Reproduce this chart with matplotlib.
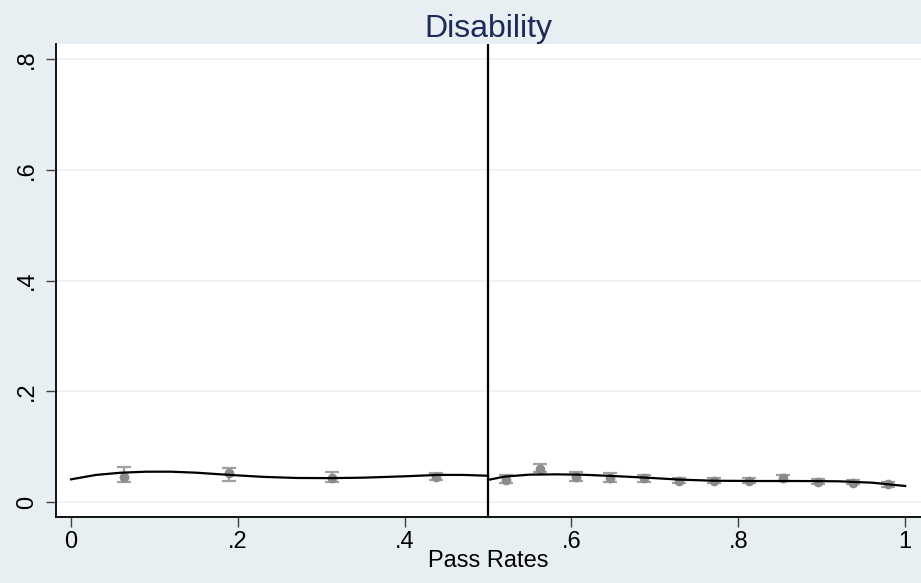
import matplotlib
matplotlib.use("Agg")
import matplotlib.pyplot as plt

plt.rcParams['font.family'] = ['Liberation Sans', 'DejaVu Sans']

# Binned means with confidence intervals
bin_x = [0.063, 0.189, 0.313, 0.438, 0.522, 0.562, 0.605, 0.646, 0.687, 0.729,
         0.771, 0.813, 0.853, 0.896, 0.937, 0.979]
bin_y = [0.046, 0.052, 0.044, 0.046, 0.040, 0.060, 0.046, 0.044, 0.043, 0.038,
         0.038, 0.038, 0.043, 0.037, 0.035, 0.032]
ci_lo = [0.036, 0.038, 0.036, 0.040, 0.034, 0.054, 0.038, 0.037, 0.037, 0.034,
         0.034, 0.034, 0.038, 0.032, 0.032, 0.028]
ci_hi = [0.064, 0.062, 0.054, 0.053, 0.049, 0.069, 0.054, 0.052, 0.049, 0.044,
         0.043, 0.043, 0.048, 0.042, 0.040, 0.037]

# Fitted polynomial curves on each side of the cutoff
fit_left_x = [0.0, 0.03, 0.06, 0.09, 0.12, 0.15, 0.19, 0.23, 0.27, 0.31, 0.35, 0.40, 0.44, 0.47, 0.5]
fit_left_y = [0.041, 0.049, 0.053, 0.0548, 0.0548, 0.053, 0.049, 0.0455, 0.0435, 0.0432, 0.044, 0.0465, 0.049, 0.049, 0.0475]
fit_right_x = [0.5, 0.52, 0.55, 0.58, 0.61, 0.65, 0.69, 0.73, 0.77, 0.82, 0.87, 0.92, 0.96, 1.0]
fit_right_y = [0.040, 0.046, 0.0495, 0.050, 0.0495, 0.047, 0.044, 0.0405, 0.0385, 0.038, 0.038, 0.0375, 0.035, 0.029]

cutoff = 0.5
x_ticks = [0, 0.2, 0.4, 0.6, 0.8, 1.0]
x_tick_labels = ["0", ".2", ".4", ".6", ".8", "1"]
y_ticks = [0, 0.2, 0.4, 0.6, 0.8]
y_tick_labels = ["0", ".2", ".4", ".6", ".8"]

bg = "#e8eff2"
fig = plt.figure(figsize=(9.21, 5.83), dpi=100, facecolor=bg)
ax = fig.add_axes([0.0608, 0.1132, 0.9392, 0.8113])
ax.set_facecolor("white")

yerr = [[b - l for b, l in zip(bin_y, ci_lo)], [h - b for b, h in zip(bin_y, ci_hi)]]
ax.errorbar(bin_x, bin_y, yerr=yerr, fmt='o', color="#8c8c8c", ecolor="#a0a0a0",
            markersize=6, elinewidth=1.6, capsize=5, capthick=1.6, zorder=3)
ax.plot(fit_left_x, fit_left_y, color="black", lw=1.6, zorder=4)
ax.plot(fit_right_x, fit_right_y, color="black", lw=1.6, zorder=4)
ax.axvline(cutoff, color="black", lw=1.6, zorder=5)

ax.set_xlim(-0.018, 1.019)
ax.set_ylim(-0.027, 0.827)
ax.set_xticks(x_ticks)
ax.set_xticklabels(x_tick_labels)
ax.set_yticks(y_ticks)
ax.set_yticklabels(y_tick_labels, rotation=90, va="center")
ax.grid(axis="y", color="#edf2f4", lw=1.3)
ax.set_axisbelow(True)

for s in ["top", "right"]:
    ax.spines[s].set_visible(False)
for s in ["left", "bottom"]:
    ax.spines[s].set_linewidth(1.3)
ax.tick_params(axis="both", length=7, width=1.0, color="#404040", labelsize=17, pad=3)
ax.tick_params(axis="y", pad=6)

ax.set_xlabel("Pass Rates", fontsize=17, labelpad=-2)
ax.set_title("Disability", fontsize=23, color="#1e2a5a", pad=4)

fig.savefig("out.png", dpi=100, facecolor=bg)
